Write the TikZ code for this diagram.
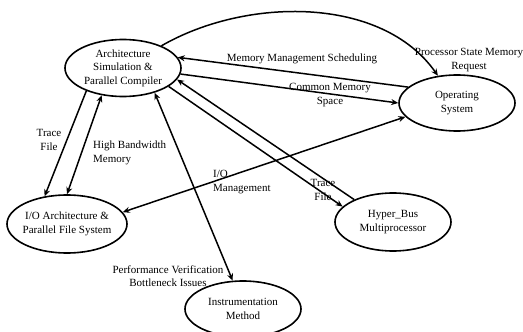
\documentclass[tikz,border=0pt]{standalone}
\usepackage{fontspec}
\setmainfont{Liberation Serif}
\usetikzlibrary{arrows.meta, shapes.geometric}
\tikzset{
  sysnode/.style={draw, ellipse, line width=1.6pt, minimum width=116pt,
                  minimum height=57pt, align=center, inner sep=0pt,
                  font=\fontsize{11}{13.5}\selectfont},
  lbl/.style={inner sep=0pt, font=\fontsize{11}{13.5}\selectfont},
  arr/.style={-{Stealth[length=7pt, width=6pt]}, line width=1.5pt},
  darr/.style={{Stealth[length=7pt, width=6pt]}-{Stealth[length=7pt, width=6pt]}, line width=1.5pt},
}
\begin{document}
\begin{tikzpicture}[x=1pt, y=-1pt]
  \useasboundingbox (0,0) rectangle (523,332);

  %% Subsystems
  \node[sysnode] (arch) at (123,68) {Architecture\\Simulation \&\\Parallel Compiler};
  \node[sysnode, minimum height=56pt] (os) at (457,103) {Operating\\System};
  \node[sysnode, minimum width=120pt, minimum height=58pt, inner xsep=-8pt] (io) at (67,224) {I/O Architecture \&\\Parallel File System};
  \node[sysnode, minimum height=58pt] (hyper) at (393,222) {Hyper\_Bus\\Multiprocessor};
  \node[sysnode, minimum height=56pt] (instr) at (243,309) {Instrumentation\\Method};

  %% Architecture <-> Operating System
  \draw[arr] (arch.30) to[out=30, in=125, looseness=0.9] (os.125);
  \node[lbl, align=center] (l1) at (469,60) {Processor State Memory\\Request};
  \draw[arr] (os.162) -- (arch.11);
  \node[lbl] (l2) at (302,59) {Memory Management Scheduling};
  \draw[arr] (arch.-6) -- (os.180);
  \node[lbl, align=center] (l3) at (330,95) {Common Memory\\Space};

  %% I/O <-> Operating System
  \draw[darr] (io.12) -- (os.195);
  \node[lbl, align=left, anchor=west] (l4) at (213,182) {I/O\\Management};

  %% Architecture <-> Hyper_Bus
  \draw[arr] (hyper.150) -- (arch.-12);
  \draw[arr] (arch.-22) -- (hyper.163);
  \node[lbl, align=center] (l5) at (323,190) {Trace\\File};

  %% Architecture <-> I/O
  \draw[arr] (arch.212) -- (io.129);
  \node[lbl, align=center] (l6) at (49,140) {Trace\\File};
  \draw[darr] (io.90) -- (arch.232);
  \node[lbl, align=left, anchor=west] (l7) at (93,153) {High Bandwidth\\Memory};

  %% Architecture <-> Instrumentation
  \draw[darr] (arch.-38) -- (instr.110);
  \node[lbl, align=center] (l8) at (168,276) {Performance Verification\\Bottleneck Issues};

\end{tikzpicture}
\end{document}
